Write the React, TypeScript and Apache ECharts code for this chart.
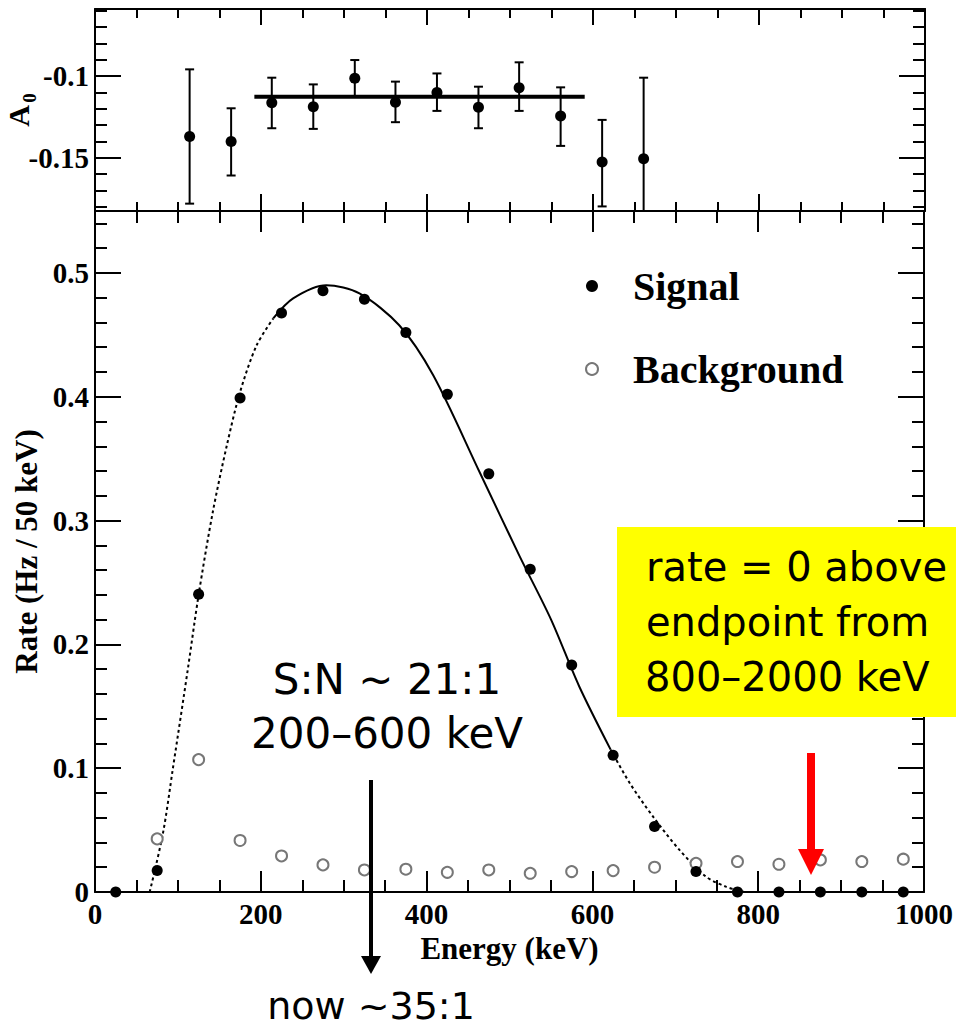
import React, { useEffect, useRef } from 'react';
import * as echarts from 'echarts';

// ---------- data ----------
const energyBins = [25, 75, 125, 175, 225, 275, 325, 375, 425, 475, 525, 575, 625, 675, 725, 775, 825, 875, 925, 975];
const signalRate = [0, 0.0173, 0.2405, 0.399, 0.4677, 0.4856, 0.4788, 0.4518, 0.4019, 0.3377, 0.2607, 0.1833, 0.1104, 0.0529, 0.0165, 0, 0, 0, 0, 0];
const backgroundRate = [null, 0.0429, 0.1069, 0.0416, 0.0291, 0.0219, 0.0178, 0.0184, 0.0159, 0.0178, 0.0151, 0.0165, 0.0173, 0.02, 0.0232, 0.0246, 0.0224, 0.0259, 0.0246, 0.0265];

// fit curve (dashed / solid / dashed)
const fitLowE = [66, 82, 94, 112, 125, 142, 159, 175, 195, 215];
const fitLowR = [0, 0.0475, 0.1, 0.18, 0.24, 0.3066, 0.3606, 0.4038, 0.4416, 0.4632];
const fitMidE = [215, 239, 279, 319, 367, 408, 464, 512, 550, 584, 622];
const fitMidR = [0.4632, 0.4794, 0.49, 0.4834, 0.4577, 0.4173, 0.339, 0.2715, 0.2202, 0.1662, 0.115];
const fitHighE = [622, 645, 673, 705, 737, 761, 783];
const fitHighR = [0.115, 0.088, 0.061, 0.034, 0.0124, 0.0043, 0];

// asymmetry panel
const a0Energy = [114, 164, 213, 263, 313, 362, 412, 462, 511, 561, 611, 661];
const a0Value = [-0.137, -0.14, -0.1163, -0.1187, -0.1014, -0.116, -0.11, -0.1191, -0.1071, -0.1244, -0.1526, -0.1506];
const a0High = [-0.0959, -0.1197, -0.101, -0.1051, -0.0902, -0.1034, -0.0984, -0.1065, -0.0916, -0.1069, -0.1268, -0.101];
const a0Low = [-0.178, -0.1608, -0.1319, -0.1323, -0.1126, -0.1282, -0.1213, -0.1319, -0.1213, -0.1427, -0.1797, -0.19];
const a0FitE = [192, 590];
const a0FitValue = -0.1126;

// ticks
const a0MajorTicks = [-0.15, -0.1];
const a0MinorTicks = [-0.18, -0.17, -0.16, -0.15, -0.14, -0.13, -0.12, -0.11, -0.1, -0.09, -0.08, -0.07, -0.06];

const SERIF = 'Liberation Serif';
const SANS = 'DejaVu Sans';

const tickStyle = { color: '#000', width: 2 };

function xAxis(gridIndex: number, position: string, major: boolean, len: number, labels: boolean, extra: any = {}) {
  return {
    type: 'value', gridIndex, position, min: 0, max: 1000,
    interval: major ? 200 : 50,
    axisLine: { show: major, onZero: false, lineStyle: { color: '#000', width: 2 } },
    axisTick: { show: true, inside: true, length: len, lineStyle: tickStyle },
    axisLabel: {
      show: labels, margin: 7, color: '#000', fontFamily: SERIF, fontWeight: 'bold', fontSize: 29,
      formatter: (v: number) => String(v),
    },
    splitLine: { show: false },
    ...extra,
  };
}

function yMain(position: string, major: boolean, len: number, labels: boolean, extra: any = {}) {
  return {
    type: 'value', gridIndex: 1, position, min: 0, max: 0.55,
    interval: major ? 0.1 : 0.02,
    axisLine: { show: major, onZero: false, lineStyle: { color: '#000', width: 2 } },
    axisTick: { show: true, inside: true, length: len, lineStyle: tickStyle },
    axisLabel: {
      show: labels, margin: 6, color: '#000', fontFamily: SERIF, fontWeight: 'bold', fontSize: 29,
      formatter: (v: number) => {
        const t = Math.round(v * 10);
        if (Math.abs(v * 10 - t) > 1e-6) return '';
        return t === 0 ? '0' : (t / 10).toFixed(1);
      },
    },
    splitLine: { show: false },
    ...extra,
  };
}

function yTop(position: string, major: boolean, len: number, labels: boolean) {
  return {
    type: 'value', gridIndex: 0, position, min: -0.1825, max: -0.059,
    axisLine: { show: major, onZero: false, lineStyle: { color: '#000', width: 2 } },
    axisTick: { show: true, inside: true, length: len, lineStyle: tickStyle, customValues: major ? a0MajorTicks : a0MinorTicks },
    axisLabel: {
      show: labels, margin: 6, color: '#000', fontFamily: SERIF, fontWeight: 'bold', fontSize: 29,
      customValues: a0MajorTicks,
      formatter: (v: number) => String(v),
    },
    splitLine: { show: false },
  };
}

const option: any = {
  animation: false,
  backgroundColor: '#fff',
  grid: [
    { left: 95, top: 9, width: 830, height: 202 },
    { left: 95, top: 211, width: 830, height: 681 },
  ],
  xAxis: [
    xAxis(0, 'bottom', true, 17, false),
    xAxis(0, 'bottom', false, 9, false),
    xAxis(0, 'top', true, 16, false),
    xAxis(0, 'top', false, 9, false),
    xAxis(1, 'bottom', true, 21, true, {
      name: 'Energy (keV)', nameLocation: 'middle', nameGap: 33,
      nameTextStyle: { color: '#000', fontFamily: SERIF, fontWeight: 'bold', fontSize: 31 },
    }),
    xAxis(1, 'bottom', false, 12, false),
    xAxis(1, 'top', true, 21, false),
    xAxis(1, 'top', false, 12, false),
  ],
  yAxis: [
    yTop('left', true, 26, true),
    yTop('left', false, 12, false),
    yTop('right', true, 26, false),
    yTop('right', false, 12, false),
    yMain('left', true, 26, true, {
      name: 'Rate (Hz / 50 keV)', nameLocation: 'middle', nameGap: 52,
      nameTextStyle: { color: '#000', fontFamily: SERIF, fontWeight: 'bold', fontSize: 31 },
    }),
    yMain('left', false, 12, false),
    yMain('right', true, 26, false),
    yMain('right', false, 12, false),
  ],
  legend: {
    orient: 'vertical', left: 580, top: 261,
    itemWidth: 12, itemHeight: 12, itemGap: 43,
    selectedMode: false,
    data: [{ name: 'Signal', icon: 'circle' }, { name: 'Background', icon: 'emptyCircle' }],
    textStyle: { color: '#000', fontFamily: SERIF, fontWeight: 'bold', fontSize: 40, padding: [0, 0, 0, 30] },
  },
  series: [
    {
      name: 'fit-low', type: 'line', xAxisIndex: 4, yAxisIndex: 4, showSymbol: false, symbol: 'none', smooth: 0.3,
      data: fitLowE.map((e, i) => [e, fitLowR[i]]),
      lineStyle: { color: '#000', width: 2, type: [3, 3] }, z: 2,
    },
    {
      name: 'fit-mid', type: 'line', xAxisIndex: 4, yAxisIndex: 4, showSymbol: false, symbol: 'none', smooth: 0.3,
      data: fitMidE.map((e, i) => [e, fitMidR[i]]),
      lineStyle: { color: '#000', width: 2 }, z: 2,
    },
    {
      name: 'fit-high', type: 'line', xAxisIndex: 4, yAxisIndex: 4, showSymbol: false, symbol: 'none', smooth: 0.3,
      data: fitHighE.map((e, i) => [e, fitHighR[i]]),
      lineStyle: { color: '#000', width: 2, type: [3, 3] }, z: 2,
    },
    {
      name: 'Background', type: 'scatter', xAxisIndex: 4, yAxisIndex: 4,
      symbol: 'emptyCircle', symbolSize: 11,
      data: energyBins.map((e, i) => [e, backgroundRate[i]]).filter((d) => d[1] !== null),
      itemStyle: { color: '#777', borderColor: '#777', borderWidth: 1.5, opacity: 1 }, z: 3,
    },
    {
      name: 'Signal', type: 'scatter', xAxisIndex: 4, yAxisIndex: 4,
      symbol: 'circle', symbolSize: 11,
      data: energyBins.map((e, i) => [e, signalRate[i]]),
      itemStyle: { color: '#000', opacity: 1 }, z: 4,
    },
    {
      name: 'A0 fit', type: 'line', xAxisIndex: 0, yAxisIndex: 0, showSymbol: false, symbol: 'none',
      data: a0FitE.map((e) => [e, a0FitValue]),
      lineStyle: { color: '#000', width: 4 }, z: 2,
    },
    {
      name: 'A0 errors', type: 'custom', xAxisIndex: 0, yAxisIndex: 0,
      data: a0Energy.map((e, i) => [e, a0Low[i], a0High[i]]),
      encode: { x: 0, y: [1, 2] },
      renderItem: (params: any, api: any) => {
        const x = api.value(0), lo = api.value(1), hi = api.value(2);
        const cs = params.coordSys;
        const top = cs.y, bottom = cs.y + cs.height;
        const pHi = api.coord([x, hi]);
        const pLo = api.coord([x, lo]);
        const yHi = Math.max(top, pHi[1]);
        const yLo = Math.min(bottom, pLo[1]);
        const cw = 4.5;
        const st = { stroke: '#000', lineWidth: 2 };
        const children: any[] = [
          { type: 'line', shape: { x1: pHi[0], y1: yHi, x2: pHi[0], y2: yLo }, style: st },
        ];
        if (pHi[1] >= top) children.push({ type: 'line', shape: { x1: pHi[0] - cw, y1: yHi, x2: pHi[0] + cw, y2: yHi }, style: st });
        if (pLo[1] <= bottom) children.push({ type: 'line', shape: { x1: pLo[0] - cw, y1: yLo, x2: pLo[0] + cw, y2: yLo }, style: st });
        return { type: 'group', children };
      },
      z: 3,
    },
    {
      name: 'A0', type: 'scatter', xAxisIndex: 0, yAxisIndex: 0,
      symbol: 'circle', symbolSize: 11,
      data: a0Energy.map((e, i) => [e, a0Value[i]]),
      itemStyle: { color: '#000', opacity: 1 }, z: 4,
    },
  ],
  graphic: [
    {
      type: 'group', x: 18, y: 116, rotation: Math.PI / 2, z: 50,
      children: [
        { type: 'text', x: 0, y: 0, style: { text: 'A', font: `bold 30px "${SERIF}"`, fill: '#000', textAlign: 'center', textVerticalAlign: 'middle' } },
        { type: 'text', x: 18, y: 11, style: { text: '0', font: `bold 19px "${SERIF}"`, fill: '#000', textAlign: 'center', textVerticalAlign: 'middle' } },
      ],
    },
    // S:N annotation
    { type: 'text', x: 387, y: 679, z: 100, style: { text: 'S:N ~ 21:1', font: `42px "${SANS}"`, fill: '#000', textAlign: 'center', textVerticalAlign: 'middle' } },
    { type: 'text', x: 387, y: 733, z: 100, style: { text: '200–600 keV', font: `42px "${SANS}"`, fill: '#000', textAlign: 'center', textVerticalAlign: 'middle' } },
    { type: 'line', z: 100, shape: { x1: 371, y1: 780, x2: 371, y2: 958 }, style: { stroke: '#000', lineWidth: 4 } },
    { type: 'polygon', z: 100, shape: { points: [[361, 956], [381, 956], [371, 974]] }, style: { fill: '#000' } },
    { type: 'text', x: 371, y: 1006, z: 100, style: { text: 'now ~35:1', font: `38px "${SANS}"`, fill: '#000', textAlign: 'center', textVerticalAlign: 'middle' } },
    // yellow box
    { type: 'rect', z: 100, shape: { x: 617, y: 527, width: 400, height: 190 }, style: { fill: '#ffff00' } },
    { type: 'text', x: 646, y: 567, z: 101, style: { text: 'rate = 0 above', font: `40px "${SANS}"`, fill: '#000', textAlign: 'left', textVerticalAlign: 'middle' } },
    { type: 'text', x: 646, y: 622, z: 101, style: { text: 'endpoint from', font: `40px "${SANS}"`, fill: '#000', textAlign: 'left', textVerticalAlign: 'middle' } },
    { type: 'text', x: 645, y: 677, z: 101, style: { text: '800–2000 keV', font: `40px "${SANS}"`, fill: '#000', textAlign: 'left', textVerticalAlign: 'middle' } },
    // red arrow
    { type: 'line', z: 100, shape: { x1: 811, y1: 753, x2: 811, y2: 851 }, style: { stroke: '#ff0000', lineWidth: 8 } },
    { type: 'polygon', z: 100, shape: { points: [[798, 849], [824, 849], [811, 875]] }, style: { fill: '#ff0000' } },
  ],
};

export default function App() {
  const ref = useRef<HTMLDivElement>(null);
  useEffect(() => {
    document.body.style.margin = '0';
    const chart = echarts.init(ref.current as HTMLDivElement, null, { renderer: 'svg' });
    chart.setOption(option);
    return () => chart.dispose();
  }, []);
  return <div ref={ref} style={{ position: 'absolute', left: 0, top: 0, width: 956, height: 1033, background: '#fff' }} />;
}
